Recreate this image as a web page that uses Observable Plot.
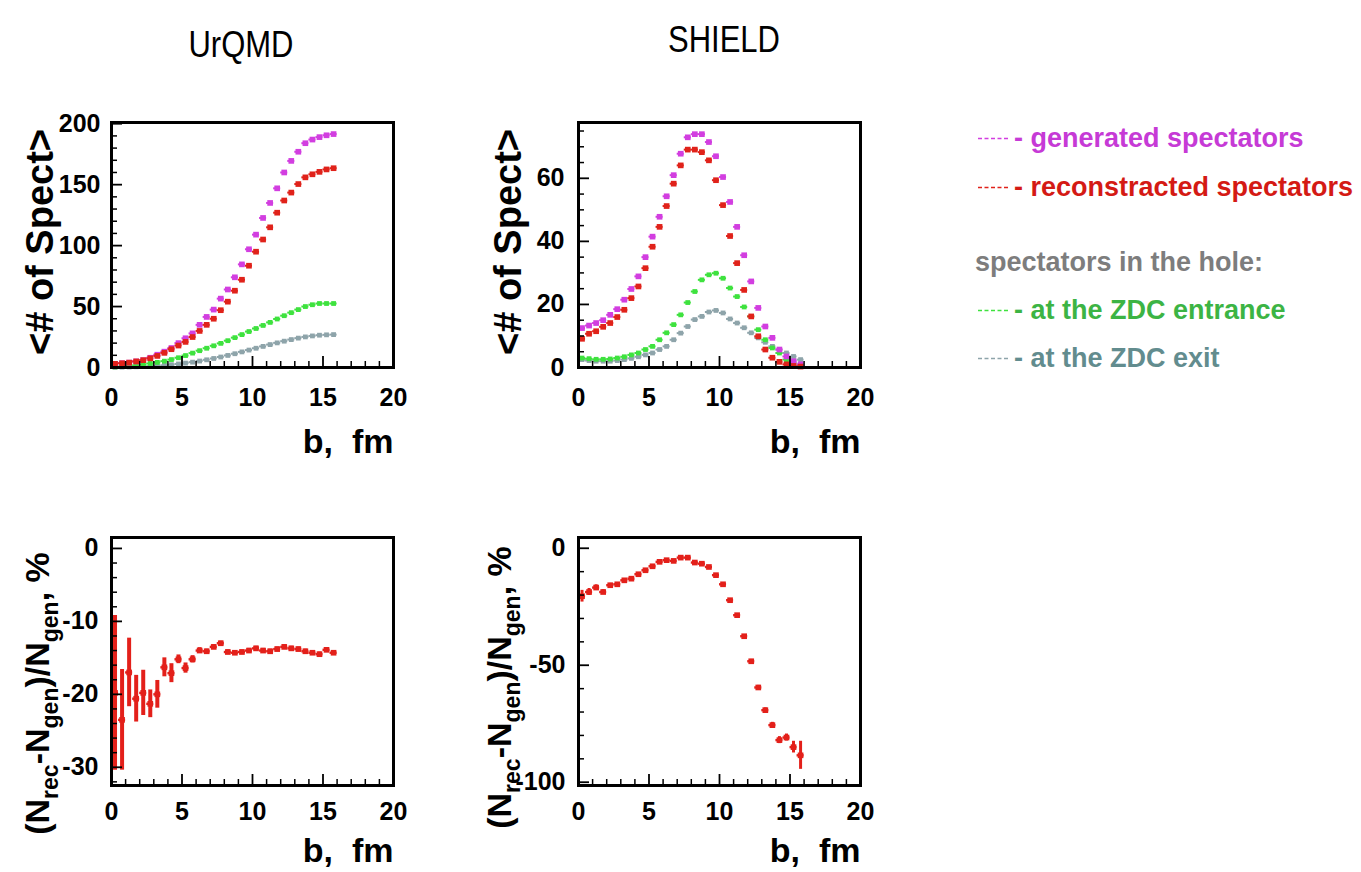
<!DOCTYPE html>
<html>
<head>
<meta charset="utf-8">
<script src="https://cdn.jsdelivr.net/npm/d3@7"></script>
<script src="https://cdn.jsdelivr.net/npm/@observablehq/plot@0.6"></script>
<style>
  html, body { margin: 0; padding: 0; background: #fff; }
  body { font-family: "Liberation Sans", Arial, sans-serif; }
  #root { position: relative; width: 1361px; height: 872px; overflow: hidden; background: #fff; }
  .panel { position: absolute; }
  .panel svg { overflow: visible; }
  svg text { white-space: pre; }
  .title { position: absolute; font-size: 31px; font-weight: normal; color: #000;
           transform: translate(-50%, -50%) scaleY(1.22); white-space: nowrap; }
  .leg { position: absolute; font-size: 27px; font-weight: bold; white-space: pre;
         display: flex; align-items: center; transform: translateY(-50%); }
  .leg svg { margin-right: 5px; }
</style>
</head>
<body>
<div id="root"></div>
<script>
// ---------------- data ----------------
const bCenters = [0.25,0.75,1.25,1.75,2.25,2.75,3.25,3.75,4.25,4.75,5.25,5.75,6.25,6.75,7.25,7.75,
                  8.25,8.75,9.25,9.75,10.25,10.75,11.25,11.75,12.25,12.75,13.25,13.75,14.25,14.75,15.25,15.75];
const binHalfWidth = 0.25;

const xTicksMajor = [0, 5, 10, 15, 20];
const xTicksMinor = [1,2,3,4,6,7,8,9,11,12,13,14,16,17,18,19];

// UrQMD  <# of Spect>
const urqmdGenerated     = [3,3.5,4,5,6,8,10.5,13,16,20,24,28,35,41.5,47.5,56.5,64,74,84.6,97,109,122.7,135,147,160,169.5,177,184,187,189,190.5,191.5];
const urqmdReconstructed = [3,3.5,4,5,6,7.5,9.5,12,15,18,21,25,30,35,40,47,54,63,72,83.5,95,105,115,127,137,143.5,150.5,156,158.5,160.5,162.5,163.5];
const urqmdHoleEntrance  = [0.5,0.8,1.2,1.8,2.5,3.3,4.2,5.2,6.5,8,9.8,11.8,13.8,15.8,17.8,19.8,22,24.5,27,29.5,32,34.5,37,39.8,42.5,45,47.5,50,51.5,52.5,52.5,52.5];
const urqmdHoleExit      = [0.2,0.3,0.4,0.6,0.8,1.1,1.4,1.8,2.3,2.9,3.6,4.4,5.3,6.3,7.4,8.6,9.9,11.3,12.8,14.3,15.8,17.3,18.8,20.2,21.6,22.9,24.1,25.1,25.9,26.5,26.8,27];

// SHIELD  <# of Spect>
const shieldGenerated     = [12.5,13.3,14.1,15,16.7,18.5,21.5,24.9,28.9,35,41.5,47.8,54.3,61,67.8,73,74,74,71.5,67,60.4,52.5,44.6,35.6,27.3,18.9,13,9.4,5.7,3.5,2,1];
const shieldReconstructed = [9.1,10.7,11.5,12.9,14.1,16,18.3,22,25.7,31.5,38.3,44.6,51.2,58.3,64.1,69.1,69.1,68.3,65.7,59.4,51.5,41.7,33.1,24.6,16.2,9.9,5.7,3.1,1.8,1,0.5,0.3];
const shieldHoleEntrance  = [3,2.8,2.6,2.6,2.7,3,3.4,4,4.6,5.7,6.7,8.8,11,13.6,16.7,20.6,24.1,27.8,29.4,29.9,28.3,25.2,22.5,19.2,16.2,12,8.8,6.2,4.6,2.5,1.5,0.8];
const shieldHoleExit      = [2.5,2.2,2,2,2,2.2,2.5,2.9,3.4,4,4.6,5.7,6.7,8.8,10.9,13,15.2,16.2,17.6,18.1,17.3,15.4,14.1,12.6,11,9.4,8,6.7,5.7,4.6,3.5,2.5];

// (N_rec - N_gen)/N_gen, %
const urqmdRatio    = [-19.8,-23.5,-17,-20.6,-19.8,-21.3,-20,-16.3,-17.1,-15.2,-16.4,-15.2,-14,-14.1,-13.5,-13,-14.2,-14.3,-14.2,-14,-13.7,-14,-14.1,-13.8,-13.5,-13.7,-13.8,-14.1,-14.3,-14.5,-13.9,-14.3];
const urqmdRatioErr = [10.6,6.9,4.7,3.2,3.1,1.9,1.9,1.3,1.3,0.6,0.7,0.5,0.4,0.3,0.3,0.3,0.3,0.3,0.3,0.3,0.3,0.3,0.3,0.3,0.3,0.3,0.3,0.3,0.3,0.3,0.3,0.3];
const shieldRatio    = [-20.5,-18.7,-16.8,-18.7,-15.8,-15.4,-13.7,-13,-11.1,-9.4,-7.7,-5.8,-5.1,-5.4,-4,-4,-6.1,-6.6,-8,-11.5,-15.4,-22.2,-28.6,-37.6,-48.3,-59.5,-69.2,-75.6,-82,-80.9,-85,-88.5];
const shieldRatioErr = [2.5,1.5,1.2,1,0.8,0.7,0.6,0.5,0.5,0.4,0.4,0.4,0.4,0.4,0.4,0.4,0.4,0.4,0.4,0.5,0.5,0.6,0.6,0.7,0.8,0.9,1,1.2,1.5,1.5,2.5,6];

// axis ticks
const topLeftYTicks  = [0, 50, 100, 150, 200];
const topLeftYMinor  = [10,20,30,40,60,70,80,90,110,120,130,140,160,170,180,190];
const topRightYTicks = [0, 20, 40, 60];
const topRightYMinor = [5,10,15,25,30,35,45,50,55,65,70,75];
const botLeftYTicks  = [0, -10, -20, -30];
const botLeftYMinor  = [-2,-4,-6,-8,-12,-14,-16,-18,-22,-24,-26,-28,-32];
const botRightYTicks = [0, -50, -100];
const botRightYMinor = [-10,-20,-30,-40,-60,-70,-80,-90];

// texts
const panelTitles = ["UrQMD", "SHIELD"];
const xAxisLabel = "b,  fm";
const yTopLabel = "<# of Spect>";
const ratioLabelPlain = "(Nrec-Ngen)/Ngen, %";
const ratioLabelParts = [["(N",0],["rec",1],["-N",0],["gen",1],[")/N",0],["gen",1],[", %",0]];

const colGenerated = "#d23ee0";
const colReconstructed = "#e0221a";
const colEntrance = "#3ee23e";
const colExit = "#8ea4aa";
const colRatio = "#e3201a";

const legendRows = [
  {label: "- generated spectators", color: "#c63ad6", dash: colGenerated},
  {label: "- reconstracted spectators", color: "#d41a14", dash: colReconstructed},
  {label: "spectators in the hole:", color: "#7d7d7d", dash: null},
  {label: "- at the ZDC entrance", color: "#3cb444", dash: colEntrance},
  {label: "- at the ZDC exit", color: "#628c8e", dash: colExit}
];

// ---------------- helpers ----------------
function series(values, errs) {
  return bCenters.map((b, i) => ({b, v: values[i], e: errs ? errs[i] : 0}));
}

function seriesMarks(data, color, {barWidth = 2, errWidth = 0, r = 3.2} = {}) {
  const m = [
    Plot.ruleY(data, {y: "v", x1: d => d.b - binHalfWidth, x2: d => d.b + binHalfWidth, stroke: color, strokeWidth: barWidth})
  ];
  if (errWidth) {
    m.push(Plot.ruleX(data, {x: "b", y1: d => d.v - d.e, y2: d => d.v + d.e, stroke: color, strokeWidth: errWidth}));
  }
  m.push(Plot.dot(data, {x: "b", y: "v", symbol: "square", r, fill: color, stroke: "none"}));
  return m;
}

const root = document.getElementById("root");

function panel(cfg) {
  const {left, top, width, height, mL, mR, mT, mB, yDomain, yMajor, yMinor, layers,
         yLabel, yLabelDx, yLabelDy, yLabelSize, xPad, xLabelDy, yPad} = cfg;
  const ph = height - mT - mB, pw = width - mL - mR;
  const svg = Plot.plot({
    width, height,
    marginLeft: mL, marginRight: mR, marginTop: mT, marginBottom: mB,
    style: {fontFamily: '"Liberation Sans", Arial, sans-serif', fontSize: "25px", fontWeight: "bold",
            color: "#000", background: "transparent", overflow: "visible"},
    x: {domain: [0, 20], label: null},
    y: {domain: yDomain, label: null},
    marks: [
      ...layers,
      Plot.tickX(xTicksMinor, {x: d => d, insetTop: ph - 6, stroke: "#000", strokeWidth: 1.5}),
      Plot.tickX(xTicksMajor, {x: d => d, insetTop: ph - 11, stroke: "#000", strokeWidth: 1.8}),
      Plot.tickY(yMinor, {y: d => d, insetRight: pw - 6, stroke: "#000", strokeWidth: 1.5}),
      Plot.tickY(yMajor, {y: d => d, insetRight: pw - 11, stroke: "#000", strokeWidth: 1.8}),
      Plot.axisX(xTicksMajor, {tickSize: 0, tickPadding: xPad, tickFormat: d => String(d), fontSize: 25, fontWeight: "bold"}),
      Plot.axisY(yMajor, {tickSize: 0, tickPadding: yPad, tickFormat: d => String(d), fontSize: 25, fontWeight: "bold"}),
      Plot.frame({stroke: "#000", strokeWidth: 3}),
      Plot.text([xAxisLabel], {frameAnchor: "bottom-right", textAnchor: "end", lineAnchor: "bottom",
                               dy: xLabelDy, fontSize: 34, fontWeight: "bold", fill: "#000"}),
      Plot.text([yLabel], {frameAnchor: "left", rotate: -90, textAnchor: "middle", lineAnchor: "middle",
                           dx: yLabelDx, dy: yLabelDy, fontSize: yLabelSize, fontWeight: "bold", fill: "#000"})
    ]
  });
  const wrap = document.createElement("div");
  wrap.className = "panel";
  wrap.style.left = left + "px";
  wrap.style.top = top + "px";
  wrap.appendChild(svg);
  root.appendChild(wrap);
  return svg;
}

function subscriptLabel(svg) {
  const t = d3.select(svg).selectAll("text").filter(function () { return this.textContent === ratioLabelPlain; });
  t.text(null);
  let down = false;
  for (const [s, sub] of ratioLabelParts) {
    const ts = t.append("tspan").text(s);
    if (sub) {
      ts.attr("font-size", "23px");
      if (!down) { ts.attr("dy", "9px"); down = true; }
    } else if (down) {
      ts.attr("dy", "-9px"); down = false;
    }
  }
}

// ---------------- panels ----------------
panel({
  left: 0, top: 0, width: 470, height: 467, mL: 111, mR: 77, mT: 122, mB: 100,
  yDomain: [0, 201], yMajor: topLeftYTicks, yMinor: topLeftYMinor,
  layers: [
    ...seriesMarks(series(urqmdHoleExit), colExit, {r: 2.7}),
    ...seriesMarks(series(urqmdHoleEntrance), colEntrance, {r: 2.7}),
    ...seriesMarks(series(urqmdGenerated), colGenerated),
    ...seriesMarks(series(urqmdReconstructed), colReconstructed)
  ],
  yLabel: yTopLabel, yLabelDx: -71, yLabelDy: -3, yLabelSize: 38, xPad: 21, xLabelDy: 85, yPad: 11
});

panel({
  left: 470, top: 0, width: 470, height: 467, mL: 108, mR: 80, mT: 122, mB: 100,
  yDomain: [0, 77.7], yMajor: topRightYTicks, yMinor: topRightYMinor,
  layers: [
    ...seriesMarks(series(shieldHoleExit), colExit, {r: 2.7}),
    ...seriesMarks(series(shieldHoleEntrance), colEntrance, {r: 2.7}),
    ...seriesMarks(series(shieldGenerated), colGenerated),
    ...seriesMarks(series(shieldReconstructed), colReconstructed)
  ],
  yLabel: yTopLabel, yLabelDx: -70, yLabelDy: -3, yLabelSize: 38, xPad: 21, xLabelDy: 85, yPad: 14
});

const bl = panel({
  left: 0, top: 467, width: 470, height: 405, mL: 111, mR: 77, mT: 70, mB: 87,
  yDomain: [-32.5, 1.5], yMajor: botLeftYTicks, yMinor: botLeftYMinor,
  layers: [...seriesMarks(series(urqmdRatio, urqmdRatioErr), colRatio, {errWidth: 4, barWidth: 2.4})],
  yLabel: ratioLabelPlain, yLabelDx: -73, yLabelDy: 32, yLabelSize: 34, xPad: 17, xLabelDy: 76, yPad: 13
});
subscriptLabel(bl);

const br = panel({
  left: 470, top: 467, width: 470, height: 405, mL: 108, mR: 80, mT: 70, mB: 87,
  yDomain: [-101.4, 4.6], yMajor: botRightYTicks, yMinor: botRightYMinor,
  layers: [...seriesMarks(series(shieldRatio, shieldRatioErr), colRatio, {errWidth: 3, barWidth: 2.4})],
  yLabel: ratioLabelPlain, yLabelDx: -78, yLabelDy: 26, yLabelSize: 34, xPad: 17, xLabelDy: 76, yPad: 13
});
subscriptLabel(br);

// ---------------- titles ----------------
[[panelTitles[0], 241, 45], [panelTitles[1], 724, 40]].forEach(([t, x, y]) => {
  const d = document.createElement("div");
  d.className = "title";
  d.textContent = t;
  d.style.left = x + "px";
  d.style.top = y + "px";
  root.appendChild(d);
});

// ---------------- legend ----------------
const legendY = [138, 187, 262, 310, 358];
legendRows.forEach((row, i) => {
  const d = document.createElement("div");
  d.className = "leg";
  d.style.top = legendY[i] + "px";
  d.style.left = (row.dash ? 978 : 975) + "px";
  d.style.color = row.color;
  if (row.dash) {
    const s = d3.create("svg").attr("width", 31).attr("height", 4);
    s.append("line").attr("x1", 0).attr("x2", 31).attr("y1", 2).attr("y2", 2)
      .attr("stroke", row.dash).attr("stroke-width", 1.6).attr("stroke-dasharray", "4 2.5");
    d.appendChild(s.node());
  }
  const span = document.createElement("span");
  span.textContent = row.label;
  d.appendChild(span);
  root.appendChild(d);
});
</script>
</body>
</html>
